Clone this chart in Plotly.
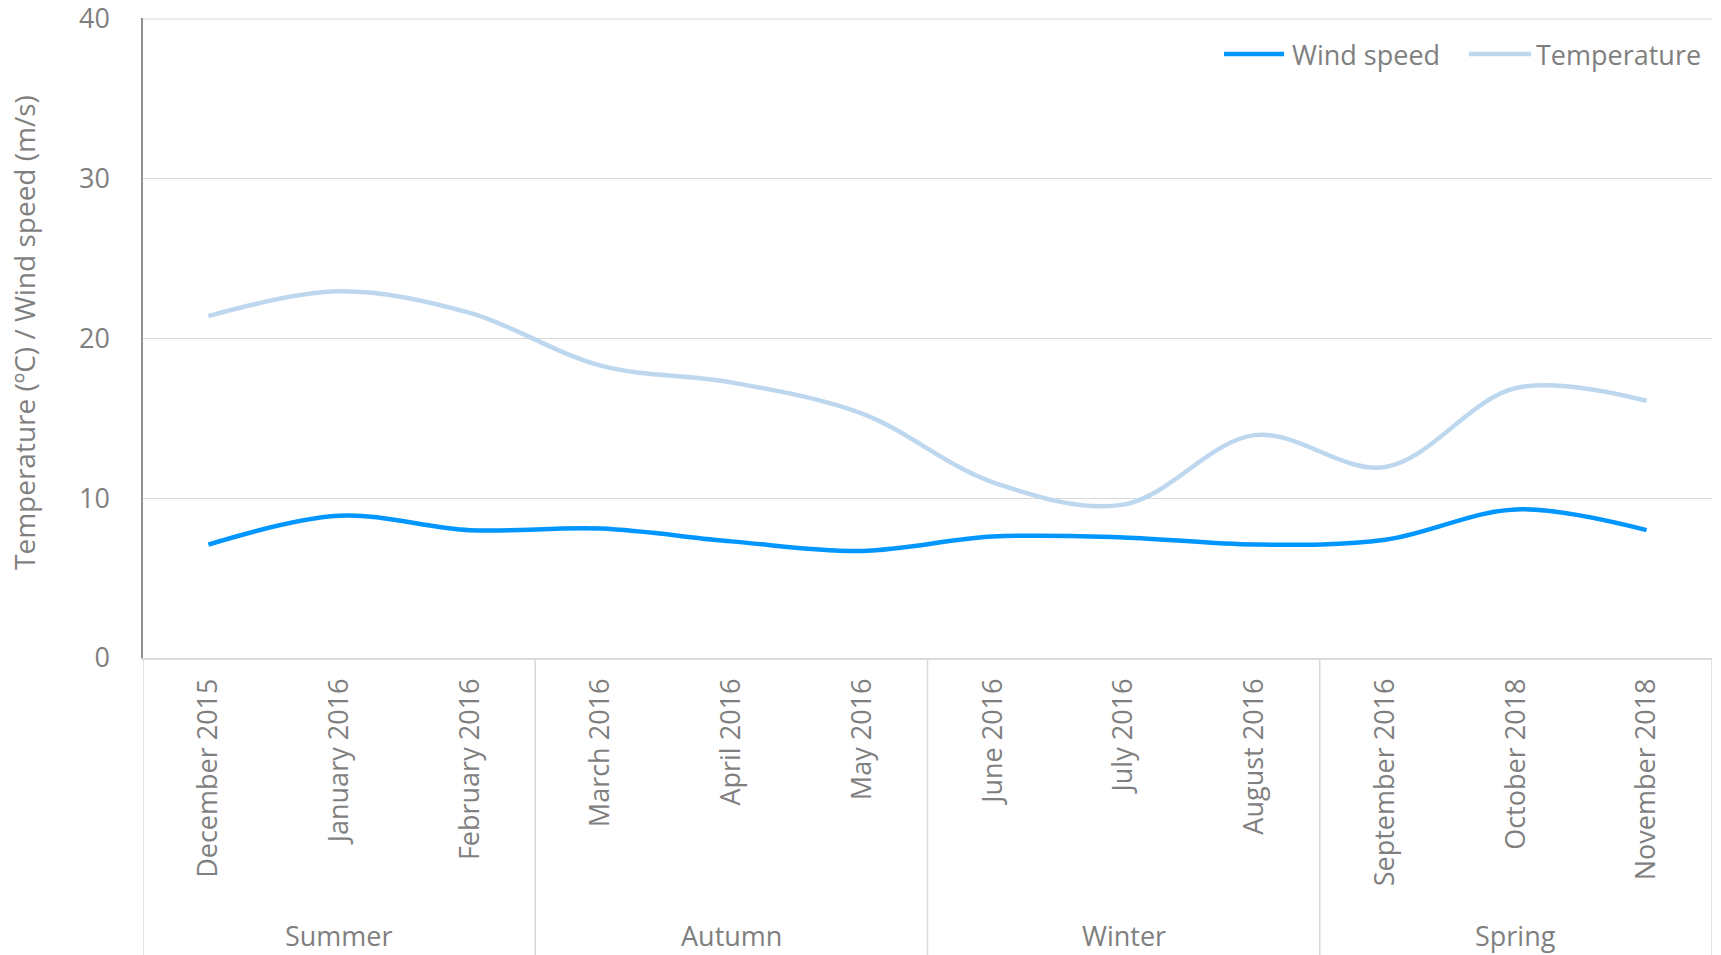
import plotly.graph_objects as go

# Monthly means, grouped by season
months = ["December 2015", "January 2016", "February 2016",
          "March 2016", "April 2016", "May 2016",
          "June 2016", "July 2016", "August 2016",
          "September 2016", "October 2018", "November 2018"]
seasons = ["Summer", "Autumn", "Winter", "Spring"]
wind_speed = [7.1, 8.9, 8.0, 8.1, 7.3, 6.7, 7.6, 7.55, 7.1, 7.4, 9.3, 8.0]
temperature = [21.4, 22.95, 21.6, 18.3, 17.25, 15.3, 11.0, 9.6, 13.95, 11.95, 16.9, 16.1]
y_ticks = [0, 10, 20, 30, 40]

WIND_COLOR = "rgb(0,150,255)"
TEMP_COLOR = "rgb(189,215,238)"
TEXT_COLOR = "#7f7f7f"
GRID_COLOR = "#d9d9d9"
FONT = "Open Sans, DejaVu Sans, sans-serif"

W, H = 1721, 955
L, R, T, B = 143, 9, 18, 297
plot_w = W - L - R
plot_h = H - T - B


def px_x(px):
    return (px - L) / plot_w


def px_y(py):
    return (H - B - py) / plot_h


idx = list(range(len(months)))

fig = go.Figure()
fig.add_trace(go.Scatter(
    x=idx, y=wind_speed, name="Wind speed", mode="lines",
    line=dict(color=WIND_COLOR, width=4.5, shape="spline", smoothing=1.0),
    showlegend=False,
))
fig.add_trace(go.Scatter(
    x=idx, y=temperature, name="Temperature", mode="lines",
    line=dict(color=TEMP_COLOR, width=4.5, shape="spline", smoothing=1.0),
    showlegend=False,
))

shapes = []
annotations = []

# Top gridline at the upper end of the value axis
shapes.append(dict(type="line", xref="paper", yref="y", layer="below",
                   x0=0, x1=1, y0=y_ticks[-1], y1=y_ticks[-1],
                   line=dict(color=GRID_COLOR, width=1)))

# Season dividers below the category axis
per_season = len(months) // len(seasons)
for k in range(len(seasons) + 1):
    xb = k * per_season - 0.5
    shapes.append(dict(type="line", xref="x", yref="paper",
                       x0=xb, x1=xb, y0=0, y1=-0.5,
                       line=dict(color=GRID_COLOR, width=1.5)))

# Season labels centred under each group
for k, s in enumerate(seasons):
    annotations.append(dict(
        x=k * per_season + (per_season - 1) / 2, y=px_y(935),
        xref="x", yref="paper", text=s, showarrow=False,
        xanchor="center", yanchor="middle",
        font=dict(family=FONT, size=27, color=TEXT_COLOR),
    ))

# Y-axis title
annotations.append(dict(
    x=px_x(24), y=px_y(333), xref="paper", yref="paper",
    text="Temperature (ºC) / Wind speed (m/s)", textangle=-90,
    showarrow=False, xanchor="center", yanchor="middle",
    font=dict(family=FONT, size=28, color=TEXT_COLOR),
))

# Legend drawn as line swatches with labels
legend_items = [("Wind speed", WIND_COLOR, 1224, 1284, 1290),
                ("Temperature", TEMP_COLOR, 1469, 1531, 1534)]
for name, color, x0, x1, xt in legend_items:
    shapes.append(dict(type="line", xref="paper", yref="paper",
                       x0=px_x(x0), x1=px_x(x1), y0=px_y(54), y1=px_y(54),
                       line=dict(color=color, width=4.5)))
    annotations.append(dict(
        x=px_x(xt), y=px_y(54), xref="paper", yref="paper", text=name,
        showarrow=False, xanchor="left", yanchor="middle",
        font=dict(family=FONT, size=27, color=TEXT_COLOR),
    ))

fig.update_layout(
    width=W, height=H,
    margin=dict(l=L, r=R, t=T, b=B, pad=0, autoexpand=False),
    paper_bgcolor="white", plot_bgcolor="white",
    font=dict(family=FONT, color=TEXT_COLOR),
    shapes=shapes, annotations=annotations,
    xaxis=dict(
        tickmode="array", tickvals=idx, ticktext=months,
        range=[-0.5, len(months) - 0.5], automargin=False,
        tickangle=-90, showgrid=False, zeroline=False,
        showline=True, linecolor=GRID_COLOR, linewidth=1.5,
        ticks="outside", ticklen=8, tickcolor="rgba(0,0,0,0)",
        tickfont=dict(family=FONT, size=27, color=TEXT_COLOR),
    ),
    yaxis=dict(
        range=[0, 40.06], tickvals=y_ticks, automargin=False,
        ticklabeloverflow="allow",
        showgrid=True, gridcolor=GRID_COLOR, gridwidth=1,
        zeroline=False, showline=True, linecolor="#909090", linewidth=1.5,
        ticks="outside", ticklen=26, tickcolor="rgba(0,0,0,0)",
        tickfont=dict(family=FONT, size=27, color=TEXT_COLOR),
    ),
)

fig.write_html("out.html")
